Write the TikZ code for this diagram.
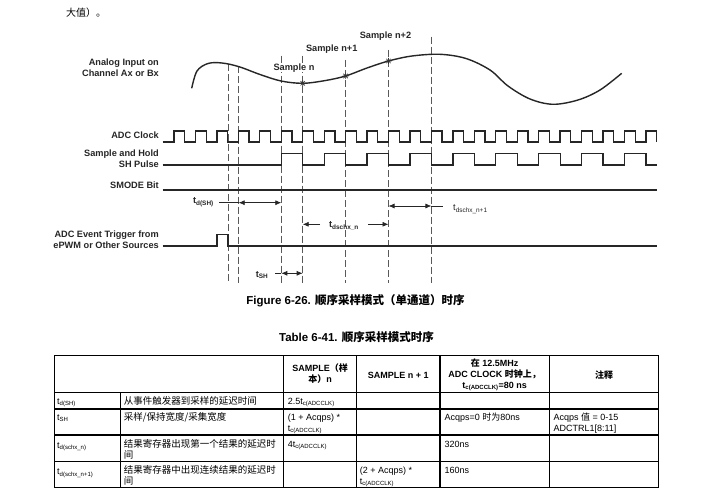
\documentclass[tikz,border=0pt]{standalone}
\usepackage{fontspec}
\setmainfont{Liberation Sans}
\newfontfamily\cjk{Noto Sans CJK SC}
\usetikzlibrary{arrows.meta}
\begin{document}
\begin{tikzpicture}[x=1pt,y=-1pt,
  sig/.style={line width=1.3pt, draw=black!85, line join=miter},
  guide/.style={dash pattern=on 7pt off 3pt, line width=0.7pt, draw=black!65},
  dim/.style={line width=0.7pt, draw=black!85, {Latex[length=6pt,width=5pt]}-{Latex[length=6pt,width=5pt]}},
  dimr/.style={line width=0.7pt, draw=black!85, -{Latex[length=6pt,width=5pt]}},
  lead/.style={line width=0.7pt, draw=black!85},
  lbl/.style={font=\fontsize{9.2}{11}\selectfont\bfseries, inner sep=0pt, align=right, text=black!85},
  tlbl/.style={font=\fontsize{9.2}{11}\selectfont\bfseries, inner sep=0pt, text=black!85},
  tb/.style={font=\fontsize{9}{11}\selectfont, inner sep=0pt, anchor=base west},
  tc/.style={font=\fontsize{9.5}{11}\selectfont\cjk, inner sep=0pt, anchor=base west},
  th/.style={font=\fontsize{9}{11}\selectfont\bfseries, inner sep=0pt, align=center},
  grid/.style={line width=1.1pt, draw=black}]
\useasboundingbox (0,0) rectangle (701,500);
\fill[white] (0,0) rectangle (701,500);

% top text fragment
\node[anchor=west, inner sep=0pt, font=\fontsize{10}{12}\selectfont\cjk] (toptxt) at (66,13) {大值）。};

% signal labels
\node[lbl, anchor=east] (lanalog) at (159,67.8) {Analog Input on\\Channel Ax or Bx};
\node[lbl, anchor=east] (lclk) at (159,135) {ADC Clock};
\node[lbl, anchor=east] (lsh) at (159,158.5) {Sample and Hold\\SH Pulse};
\node[lbl, anchor=east] (lsmode) at (159,185.7) {SMODE Bit};
\node[lbl, anchor=east] (ltrig) at (159,240) {ADC Event Trigger from\\ePWM or Other Sources};

% guide lines
\draw[guide] (228.0,64.3) -- (228.0,283);
\draw[guide] (238.6,66.5) -- (238.6,283);
\draw[guide] (281.3,55.7) -- (281.3,283);
\draw[guide] (302.7,55.7) -- (302.7,283);
\draw[guide] (345.6,60) -- (345.6,283);
\draw[guide] (388.5,50) -- (388.5,283);
\draw[guide] (431.4,36.7) -- (431.4,283);

% analog curve
\draw[sig, line width=1.4pt] plot[smooth, tension=0.55] coordinates {
 (191.7,88.3) (197,71) (208,63.5) (222,63) (239,66.7) (260,74.5) (281,81) (302.7,83.3)
 (325,80.6) (345.6,76) (367,68) (388.5,61) (412,56) (440,54.3) (466,58.5) (490,70)
 (508,86) (530,99) (553,104.3) (578,100) (600,90) (621.7,73.3)};

% sample marks
\foreach \px/\py [count=\i] in {302.7/83.3, 345.6/76, 388.5/61}{
  \draw[line width=0.6pt, black!80] (\px-3,\py) -- (\px+3,\py) (\px,\py-3) -- (\px,\py+3)
    (\px-2.2,\py-2.2) -- (\px+2.2,\py+2.2) (\px-2.2,\py+2.2) -- (\px+2.2,\py-2.2);
}
\node[tlbl, fill=white, inner sep=0.5pt] (sn) at (294,67.7) {Sample n};
\node[tlbl] (sn1) at (331.7,49) {Sample n+1};
\node[tlbl] (sn2) at (385.5,35.7) {Sample n+2};

% ADC clock
\draw[sig] (162.7,142) \foreach \k in {0,...,22}{
  -- ({174+21.45*\k},142) -- ({174+21.45*\k},131) -- ({184.725+21.45*\k},131) -- ({184.725+21.45*\k},142) };

% SH pulse
\draw[sig] (162.7,165) \foreach \k in {0,...,8}{
  -- ({281.3+42.9*\k},165) -- ({281.3+42.9*\k},153.5) -- ({302.75+42.9*\k},153.5) -- ({302.75+42.9*\k},165) }
  -- (656.7,165);

% SMODE
\draw[sig] (162.7,190) -- (656.7,190);

% trigger
\draw[sig, line width=1.8pt] (162.7,246) -- (216.9,246) -- (216.9,234.5) -- (227.6,234.5) -- (227.6,246) -- (656.7,246);

% td(SH)
\node[tlbl, anchor=east] (ltdsh) at (214,202) {t\textsubscript{d(SH)}};
\coordinate (tdshA) at (238.6,202.7);
\coordinate (tdshB) at (281.3,202.7);
\coordinate (tdshL) at (219,202.7);
\draw[lead] (tdshL) -- (tdshA);
\draw[dim] (tdshA) -- (tdshB);

% tdschx_n
\node[tlbl] (ltdn) at (344,226) {t\textsubscript{dschx\_n}};
\coordinate (tdnA) at (302.7,224.3);
\coordinate (tdnB) at (388.5,224.3);
\coordinate (tdnL) at (320,224.3);
\coordinate (tdnR) at (368,224.3);
\draw[dimr] (tdnL) -- (tdnA);
\draw[dimr] (tdnR) -- (tdnB);

% tSH
\node[tlbl, anchor=east] (ltsh) at (268.5,275) {t\textsubscript{SH}};
\coordinate (tshA) at (281.3,273.3);
\coordinate (tshB) at (302.7,273.3);
\coordinate (tshL) at (275,273.3);
\draw[lead] (tshL) -- (tshA);
\draw[dim] (tshA) -- (tshB);

% tdschx_n+1
\node[tlbl, anchor=west, font=\fontsize{9.2}{11}\selectfont] (ltdn1) at (453,209) {t\textsubscript{dschx\_n+1}};
\coordinate (tdn1A) at (388.5,206);
\coordinate (tdn1B) at (431.4,206);
\coordinate (tdn1L) at (443,206);
\draw[dim] (tdn1A) -- (tdn1B);
\draw[lead] (tdn1B) -- (tdn1L);

% captions
\node[inner sep=0pt, font=\fontsize{11.5}{13}\selectfont\bfseries] (figcap) at (355.5,300.7) {Figure 6-26. {\cjk 顺序采样模式（单通道）时序}};
\node[inner sep=0pt, font=\fontsize{11.5}{13}\selectfont\bfseries] (tabcap) at (356.5,337.3) {Table 6-41. {\cjk 顺序采样模式时序}};

% table grid
\draw[grid] (54.3,355.7) rectangle (658.7,487.7);
\foreach \yy in {392.3,409,435,461.7}{ \draw[grid] (54.3,\yy) -- (658.7,\yy); }
\draw[grid] (120.7,392.3) -- (120.7,487.7);
\foreach \xx in {283.3,356.7,440,549.3}{ \draw[grid] (\xx,355.7) -- (\xx,487.7); }

% header
\node[th] (h1) at (320,374) {SAMPLE{\cjk （样}\\{\cjk 本）}n};
\node[th] (h2) at (398.3,375) {SAMPLE n + 1};
\node[th] (h3) at (494.7,375) {{\cjk 在} 12.5MHz\\ADC CLOCK {\cjk 时钟上，}\\t\textsubscript{c(ADCCLK)}=80 ns};
\node[th] (h4) at (604,375) {\cjk 注释};

% row 1
\node[tb] (r1a) at (57,404.3) {t\textsubscript{d(SH)}};
\node[tc] (r1b) at (123.7,404.8) {从事件触发器到采样的延迟时间};
\node[tb] (r1c) at (287.7,404.3) {2.5t\textsubscript{c(ADCCLK)}};
% row 2
\node[tb] (r2a) at (57,420.2) {t\textsubscript{SH}};
\node[tc] (r2b) at (123.7,420.8) {采样/保持宽度/采集宽度};
\node[tb] (r2c) at (287.7,420.2) {(1 + Acqps) *};
\node[tb] (r2d) at (287.7,431.2) {t\textsubscript{c(ADCCLK)}};
\node[tb] (r2e) at (444.3,420.2) {Acqps=0 {\cjk 时为}80ns};
\node[tb] (r2f) at (553.3,420.2) {Acqps {\cjk 值} = 0-15};
\node[tb] (r2g) at (553.3,431.2) {ADCTRL1[8:11]};
% row 3
\node[tb] (r3a) at (57,448.3) {t\textsubscript{d(schx\_n)}};
\node[tc] (r3b) at (123.7,447.8) {结果寄存器出现第一个结果的延迟时};
\node[tc] (r3c) at (123.7,458.8) {间};
\node[tb] (r3d) at (287.7,447.2) {4t\textsubscript{c(ADCCLK)}};
\node[tb] (r3e) at (444.3,447.2) {320ns};
% row 4
\node[tb] (r4a) at (57,474.8) {t\textsubscript{d(schx\_n+1)}};
\node[tc] (r4b) at (123.7,473.8) {结果寄存器中出现连续结果的延迟时};
\node[tc] (r4c) at (123.7,484.8) {间};
\node[tb] (r4d) at (359.7,473.3) {(2 + Acqps) *};
\node[tb] (r4e) at (359.7,484.3) {t\textsubscript{c(ADCCLK)}};
\node[tb] (r4f) at (444.3,473.3) {160ns};
\end{tikzpicture}
\end{document}
